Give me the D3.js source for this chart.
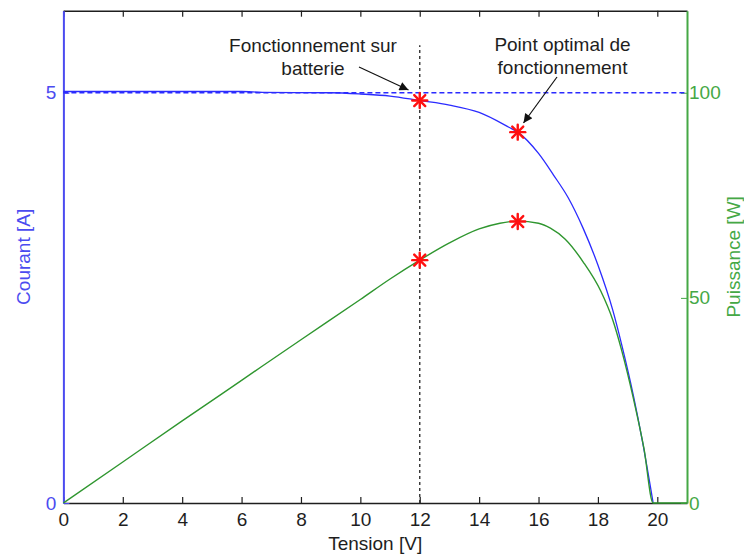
<!DOCTYPE html>
<html>
<head>
<meta charset="utf-8">
<script src="https://cdn.jsdelivr.net/npm/d3@7"></script>
<style>
  html, body { margin: 0; padding: 0; background: #fff; }
  svg { display: block; font-family: "Liberation Sans", Arial, Helvetica, sans-serif; }
</style>
</head>
<body>
<svg id="chart" width="744" height="557"></svg>
<script>
// Caractéristique I(V) et P(V) d'un panneau photovoltaïque
const tension  = [0, 2, 4, 6, 6.7, 9, 10, 11, 12, 13, 14, 15, 15.3, 16, 16.5, 17, 17.5, 18, 18.5, 18.8, 19.2, 19.5, 19.86];
const courant  = [5.015, 5.015, 5.015, 5.015, 5.005, 5.0, 4.985, 4.96, 4.905, 4.85, 4.76, 4.58, 4.52, 4.26, 4.0, 3.72, 3.35, 2.9, 2.35, 1.93, 1.30, 0.75, 0];
const tensionP = [0, 2, 4, 6, 8, 10, 11, 12, 13, 14, 14.7, 15.3, 16, 16.4, 16.9, 17.5, 18.1, 18.5, 18.8, 19.2, 19.55, 19.86, 21];
const puissance = [0, 10.0, 20.0, 29.9, 39.8, 49.6, 54.6, 59.2, 63.4, 66.8, 68.2, 68.7, 68.2, 67.0, 64.3, 58.8, 51.6, 44.6, 37.2, 25.3, 13.3, 0, 0];

// Points remarquables : fonctionnement sur batterie et point optimal
const pointsV = [12, 15.3];
const pointsI = [4.905, 4.52];
const pointsP = [59.2, 68.6];

const courantCC = 5;          // courant de court-circuit (ligne pointillée)
const tensionBatterie = 12;   // tension imposée par la batterie
const xTicks = [0, 2, 4, 6, 8, 10, 12, 14, 16, 18, 20];
const yTicksI = [0, 5];
const yTicksP = [0, 50, 100];

const svg = d3.select("#chart");
const L = 63.4, R = 687, T = 10.7, B = 503;

const x  = d3.scaleLinear().domain([0, 21]).range([L, R]);
const yI = d3.scaleLinear().domain([0, 6]).range([B, T]);
const yP = d3.scaleLinear().domain([0, 120]).range([B, T]);

const blue = "#2b2bff", blueAxis = "#4b4bf0", green = "#2f962f", greenAxis = "#45a845";
const ink = "#1e1e1e";
const fs = 19;

// Axe des tensions (bas) et bord supérieur
const gx = svg.append("g").attr("transform", `translate(0,${B})`)
  .call(d3.axisBottom(x).tickValues(xTicks).tickSize(-6).tickSizeOuter(0).tickPadding(10));
const gxTop = svg.append("g").attr("transform", `translate(0,${T})`)
  .call(d3.axisTop(x).tickValues(xTicks).tickSize(-6).tickSizeOuter(0).tickFormat(""));
[gx, gxTop].forEach(g => {
  g.select(".domain").attr("stroke", ink).attr("stroke-width", 1.4);
  g.selectAll(".tick line").attr("stroke", ink).attr("stroke-width", 1.2);
  g.selectAll(".tick text").attr("fill", ink).attr("font-size", fs).attr("font-family", null);
});

// Axe du courant (gauche)
const gyI = svg.append("g").attr("transform", `translate(${L},0)`)
  .call(d3.axisLeft(yI).tickValues(yTicksI).tickFormat(d3.format("d"))
    .tickSize(-6).tickSizeOuter(0).tickPadding(7));
gyI.select(".domain").attr("stroke", blueAxis).attr("stroke-width", 2);
gyI.selectAll(".tick line").attr("stroke", blueAxis);
gyI.selectAll(".tick text").attr("fill", blueAxis).attr("font-size", fs).attr("font-family", null);

// Axe de la puissance (droite)
const gyP = svg.append("g").attr("transform", `translate(${R},0)`)
  .call(d3.axisRight(yP).tickValues(yTicksP).tickFormat(d3.format("d"))
    .tickSize(-6).tickSizeOuter(0).tickPadding(2));
gyP.select(".domain").attr("stroke", greenAxis).attr("stroke-width", 2);
gyP.selectAll(".tick line").attr("stroke", greenAxis);
gyP.selectAll(".tick text").attr("fill", greenAxis).attr("font-size", fs).attr("font-family", null);

// Titres des axes
svg.append("text").attr("x", (L + R) / 2).attr("y", 550).attr("text-anchor", "middle")
  .attr("font-size", fs).attr("fill", ink).text("Tension [V]");
svg.append("text").attr("transform", `translate(30,${(T + B) / 2}) rotate(-90)`)
  .attr("text-anchor", "middle").attr("font-size", fs).attr("fill", blueAxis).text("Courant [A]");
svg.append("text").attr("transform", `translate(740,${(T + B) / 2}) rotate(-90)`)
  .attr("text-anchor", "middle").attr("font-size", fs)
  .attr("fill", greenAxis).text("Puissance [W]");

// Lignes de référence
svg.append("line")
  .attr("x1", x(0)).attr("x2", x(21)).attr("y1", yI(courantCC)).attr("y2", yI(courantCC))
  .attr("stroke", blue).attr("stroke-width", 1.3).attr("stroke-dasharray", "5,3");
svg.append("line")
  .attr("x1", x(tensionBatterie)).attr("x2", x(tensionBatterie)).attr("y1", yI(0)).attr("y2", yI(5.58))
  .attr("stroke", "#333").attr("stroke-width", 1.4).attr("stroke-dasharray", "3,3");

// Courbes
const lineI = d3.line().x((d, i) => x(tension[i])).y(d => yI(d)).curve(d3.curveMonotoneX);
const lineP = d3.line().x((d, i) => x(tensionP[i])).y(d => yP(d)).curve(d3.curveMonotoneX);
svg.append("path").attr("d", lineI(courant)).attr("fill", "none").attr("stroke", blue).attr("stroke-width", 1.3);
svg.append("path").attr("d", lineP(puissance)).attr("fill", "none").attr("stroke", green).attr("stroke-width", 1.4);

// Marqueurs en étoile
function star(g, cx, cy) {
  const r = 7.5, rd = 5.5;
  const segs = [[0, -r, 0, r], [-r, 0, r, 0], [-rd, -rd, rd, rd], [-rd, rd, rd, -rd]];
  g.selectAll(null).data(segs).enter().append("line")
    .attr("x1", s => cx + s[0]).attr("y1", s => cy + s[1])
    .attr("x2", s => cx + s[2]).attr("y2", s => cy + s[3])
    .attr("stroke", "#ff1010").attr("stroke-width", 2.4).attr("stroke-linecap", "round");
}
const gm = svg.append("g");
pointsV.forEach((v, i) => { star(gm, x(v), yI(pointsI[i])); star(gm, x(v), yP(pointsP[i])); });

// Annotations et flèches
svg.append("defs").append("marker").attr("id", "fleche")
  .attr("viewBox", "0 0 10 10").attr("refX", 10).attr("refY", 5)
  .attr("markerWidth", 11).attr("markerHeight", 9).attr("markerUnits", "userSpaceOnUse")
  .attr("orient", "auto")
  .append("path").attr("d", "M0,0 L10,5 L0,10 Z").attr("fill", "#111");

const notes = [
  { lines: ["Fonctionnement sur", "batterie"], cx: 313, y0: 51.7, from: [359, 67], to: [408.5, 90] },
  { lines: ["Point optimal de", "fonctionnement"], cx: 562.5, y0: 50.7, from: [557, 77], to: [523.5, 123] }
];
notes.forEach(n => {
  n.lines.forEach((t, k) => {
    svg.append("text").attr("x", n.cx).attr("y", n.y0 + k * 23).attr("text-anchor", "middle")
      .attr("font-size", fs).attr("fill", ink).text(t);
  });
  svg.append("line").attr("x1", n.from[0]).attr("y1", n.from[1]).attr("x2", n.to[0]).attr("y2", n.to[1])
    .attr("stroke", "#111").attr("stroke-width", 1.2).attr("marker-end", "url(#fleche)");
});
</script>
</body>
</html>
